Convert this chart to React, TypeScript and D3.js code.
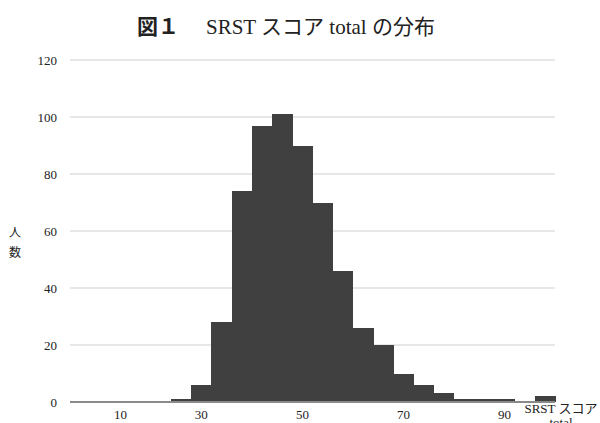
import React from "react";
import * as d3 from "d3";

const bins: number[] = Array.from({ length: 24 }, (_, i) => i);
const counts: number[] = [0, 0, 0, 0, 0, 1, 6, 28, 74, 97, 101, 90, 70, 46, 26, 20, 10, 6, 3, 1, 1, 1, 0, 2];
const xTickIndex: number[] = [2, 6, 11, 16, 21];
const xTickLabels: string[] = ["10", "30", "50", "70", "90"];
const yTicks: number[] = [0, 20, 40, 60, 80, 100, 120];

const W = 600;
const H = 423;
const left = 70;
const right = 555;
const top = 60;
const bottom = 402;

const serif = "'Liberation Serif', 'DejaVu Serif', 'Noto Sans CJK JP', serif";
const sans = "'Noto Sans CJK JP', 'Noto Sans', sans-serif";

export default function App() {
  const x = d3.scaleBand<number>().domain(bins).range([left, right]).padding(0);
  const y = d3.scaleLinear().domain([0, 120]).range([bottom, top]);

  return (
    <svg
      width={W}
      height={H}
      style={{ position: "absolute", left: 0, top: 0, background: "#fff" }}
    >
      <text x={137} y={34} fontSize={21} fill="#222">
        <tspan fontFamily={sans} fontWeight="bold">図１</tspan>
        <tspan fontFamily={serif} dx={27}>SRST スコア total の分布</tspan>
      </text>

      {yTicks.map((t) => (
        <g key={t}>
          {t !== 0 && (
            <line x1={left} x2={right} y1={y(t)} y2={y(t)} stroke="#cfcfcf" strokeWidth={1} />
          )}
          <text
            x={57}
            y={y(t)}
            dy="0.35em"
            textAnchor="end"
            fontSize={13}
            fontFamily={serif}
            fill="#222"
          >
            {t}
          </text>
        </g>
      ))}

      <g shapeRendering="crispEdges">
        {bins.map((b, i) =>
          counts[i] > 0 ? (
            <rect
              key={b}
              x={x(b)!}
              y={y(counts[i])}
              width={x.bandwidth() + 0.5}
              height={bottom - y(counts[i])}
              fill="#404040"
            />
          ) : null
        )}
      </g>

      <line x1={left} x2={right} y1={bottom} y2={bottom} stroke="#8a8a8a" strokeWidth={2} />

      {xTickIndex.map((idx, i) => (
        <text
          key={idx}
          x={x(idx)! + x.bandwidth() / 2}
          y={419}
          textAnchor="middle"
          fontSize={13}
          fontFamily={serif}
          fill="#222"
        >
          {xTickLabels[i]}
        </text>
      ))}

      <text x={15} y={237} textAnchor="middle" fontSize={12} fontFamily={serif} fill="#222">人</text>
      <text x={15} y={257} textAnchor="middle" fontSize={12} fontFamily={serif} fill="#222">数</text>

      <text x={561} y={413} textAnchor="middle" fontSize={13} fontFamily={serif} fill="#222">
        SRST スコア
      </text>
      <text x={561} y={427} textAnchor="middle" fontSize={13} fontFamily={serif} fill="#222">
        total
      </text>
    </svg>
  );
}
